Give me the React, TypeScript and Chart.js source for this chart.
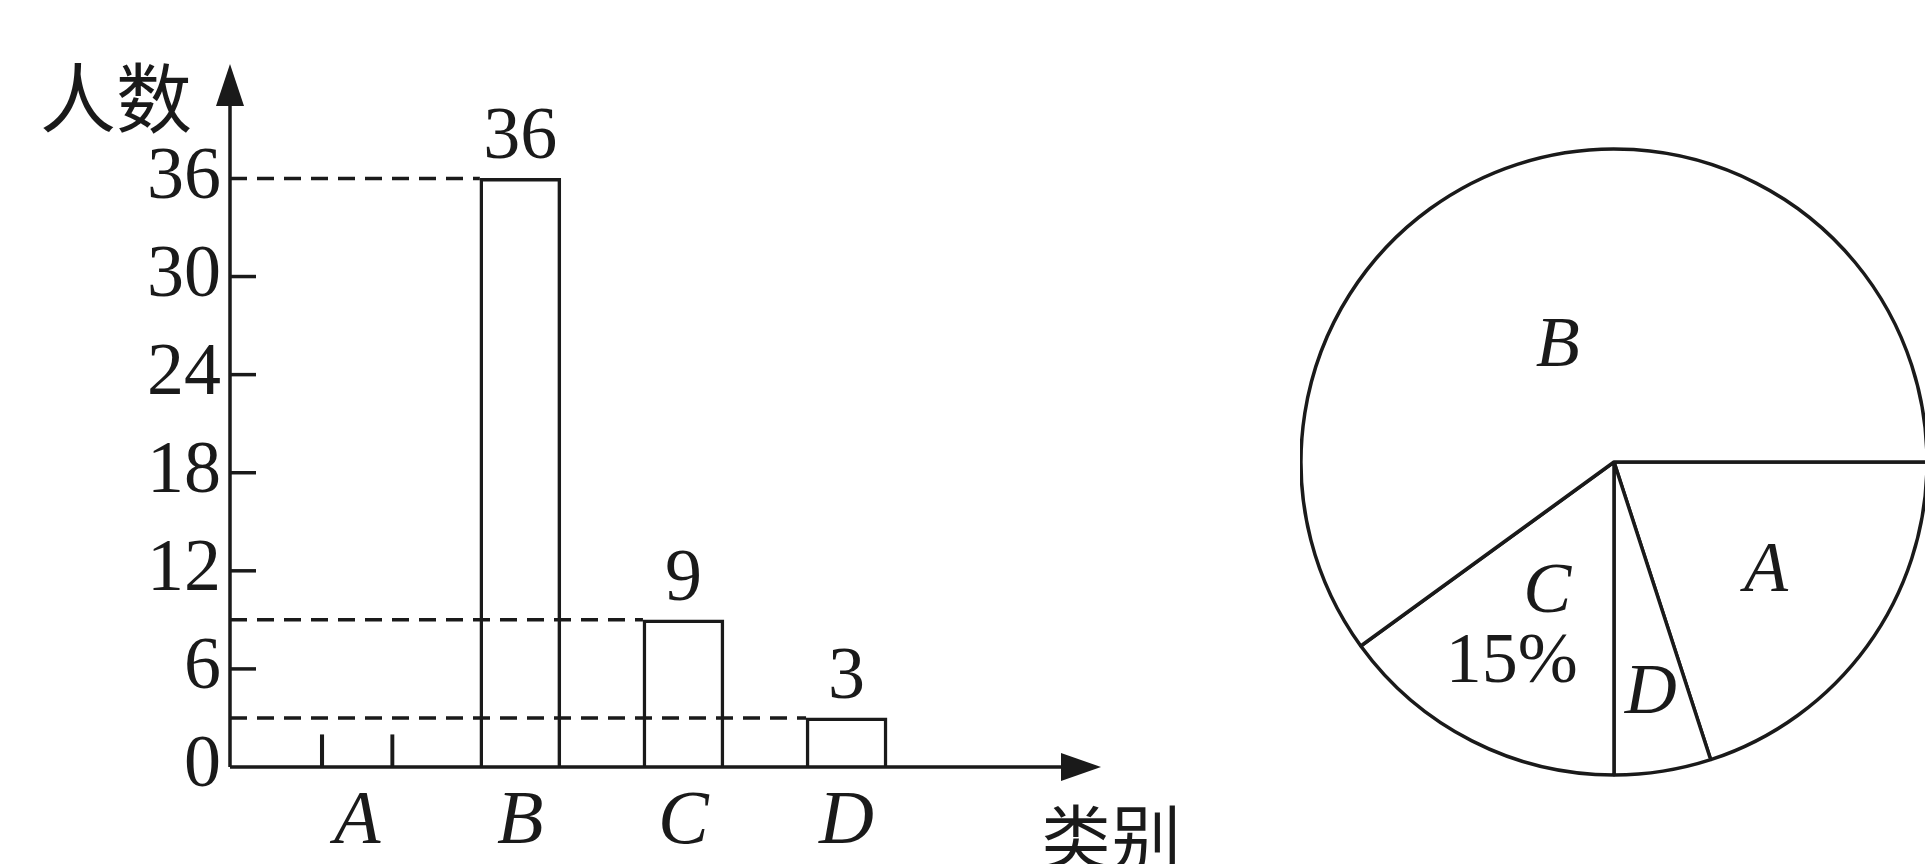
import React, { useEffect, useRef } from 'react';
import { Chart, registerables } from 'chart.js';

Chart.register(...registerables);

// ---- data ----
const categories = ['A', 'B', 'C', 'D'];
const counts: (number | null)[] = [null, 36, 9, 3]; // bar for A is left blank in the figure
const stubMarks: (number | null)[] = [2, null, null, null]; // the two short strokes drawn at A
const yTicks = [0, 6, 12, 18, 24, 30, 36];
const pieCategories = ['A', 'D', 'C', 'B'];
const pieShares = [20, 5, 15, 60];
const pieNotes = ['', '', '15%', ''];
const yAxisTitle = '人数';
const xAxisTitle = '类别';

// ---- style ----
const INK = '#1a1a1a';
const LW = 3.5;
const SERIF = '"Liberation Serif", "Times New Roman", serif';
const CJK = '"Noto Sans CJK SC", sans-serif';
const pieLabelRadius = [0.6, 0.75, 0.47, 0.41];
const pieLabelAngleShift = [0, 0, 0, -8]; // degrees
const pieNoteRadius = 0.72;

const barPlugin = {
  id: 'barDecor',
  afterDatasetsDraw(chart: any) {
    const { ctx, chartArea, scales } = chart;
    const { left, right, top, bottom } = chartArea;
    const y = scales.y;
    ctx.save();
    ctx.strokeStyle = INK;
    ctx.fillStyle = INK;
    ctx.lineWidth = LW;

    // dashed guide lines from the y axis to each bar
    const meta = chart.getDatasetMeta(0);
    ctx.setLineDash([17, 10]);
    meta.data.forEach((bar: any, i: number) => {
      if (counts[i] == null) return;
      const p = bar.getProps(['x', 'y', 'width'], true);
      ctx.beginPath();
      ctx.moveTo(left, p.y);
      ctx.lineTo(p.x - p.width / 2, p.y);
      ctx.stroke();
    });
    ctx.setLineDash([]);

    // axes with arrows
    ctx.beginPath();
    ctx.moveTo(left, bottom);
    ctx.lineTo(left, top + 38);
    ctx.moveTo(left, bottom);
    ctx.lineTo(right - 38, bottom);
    ctx.stroke();
    ctx.beginPath();
    ctx.moveTo(left, top);
    ctx.lineTo(left - 14, top + 42);
    ctx.lineTo(left + 14, top + 42);
    ctx.closePath();
    ctx.fill();
    ctx.beginPath();
    ctx.moveTo(right, bottom);
    ctx.lineTo(right - 40, bottom - 14);
    ctx.lineTo(right - 40, bottom + 14);
    ctx.closePath();
    ctx.fill();

    // tick marks (inside)
    const maxTick = Math.max(...yTicks);
    yTicks.forEach((v) => {
      if (v <= 0 || v >= maxTick) return;
      const py = y.getPixelForValue(v);
      ctx.beginPath();
      ctx.moveTo(left, py);
      ctx.lineTo(left + 26, py);
      ctx.stroke();
    });

    // value labels
    ctx.font = `74px ${SERIF}`;
    ctx.textAlign = 'center';
    ctx.textBaseline = 'alphabetic';
    meta.data.forEach((bar: any, i: number) => {
      if (counts[i] == null) return;
      const p = bar.getProps(['x', 'y'], true);
      ctx.fillText(String(counts[i]), p.x, p.y - 20);
    });

    // axis titles
    ctx.font = `76px ${CJK}`;
    ctx.textBaseline = 'middle';
    ctx.textAlign = 'right';
    ctx.fillText(yAxisTitle, left - 38, top + 34);
    ctx.font = `70px ${CJK}`;
    ctx.textAlign = 'left';
    ctx.fillText(xAxisTitle, right - 60, bottom + 70);
    ctx.restore();
  },
};

const piePlugin = {
  id: 'pieLabels',
  afterDatasetsDraw(chart: any) {
    const { ctx } = chart;
    const meta = chart.getDatasetMeta(0);
    ctx.save();
    ctx.fillStyle = INK;
    ctx.textAlign = 'center';
    ctx.textBaseline = 'middle';
    meta.data.forEach((arc: any, i: number) => {
      const p = arc.getProps(['x', 'y', 'startAngle', 'endAngle', 'outerRadius'], true);
      const mid = (p.startAngle + p.endAngle) / 2 + (pieLabelAngleShift[i] * Math.PI) / 180;
      const r = p.outerRadius * pieLabelRadius[i];
      ctx.font = `italic 72px ${SERIF}`;
      ctx.fillText(pieCategories[i], p.x + Math.cos(mid) * r, p.y + Math.sin(mid) * r);
      if (pieNotes[i]) {
        const r2 = p.outerRadius * pieNoteRadius;
        ctx.font = `72px ${SERIF}`;
        ctx.fillText(pieNotes[i], p.x + Math.cos(mid) * r2, p.y + Math.sin(mid) * r2);
      }
    });
    ctx.restore();
  },
};

export default function App() {
  const barRef = useRef<HTMLCanvasElement>(null);
  const pieRef = useRef<HTMLCanvasElement>(null);

  useEffect(() => {
    const bar = new Chart(barRef.current as HTMLCanvasElement, {
      type: 'bar',
      data: {
        datasets: [
          {
            label: yAxisTitle,
            data: categories.map((_, i) => ({ x: i, y: counts[i] })) as any,
            backgroundColor: '#ffffff',
            borderColor: INK,
            borderWidth: LW,
            borderSkipped: 'start',
            barThickness: 81,
            grouped: false,
          } as any,
          {
            label: 'stub',
            data: categories.map((_, i) => ({ x: i, y: stubMarks[i] })) as any,
            backgroundColor: 'rgba(0,0,0,0)',
            borderColor: INK,
            borderWidth: { left: LW, right: LW, top: 0, bottom: 0 },
            borderSkipped: false,
            barThickness: 74,
            grouped: false,
          } as any,
        ],
      },
      options: {
        animation: false,
        responsive: false,
        layout: { padding: { left: 0, top: 64, right: 149, bottom: 0 } },
        plugins: { legend: { display: false }, tooltip: { enabled: false } },
        scales: {
          x: {
            type: 'linear',
            offset: false,
            min: -0.78,
            max: 4.56,
            afterBuildTicks: (s: any) => {
              s.ticks = categories.map((_, i) => ({ value: i }));
            },
            afterFit: (s: any) => {
              s.height = 97;
            },
            ticks: {
              callback: (v: any) => categories[v as number] ?? '',
              font: { family: SERIF, size: 76, style: 'italic' },
              color: INK,
              padding: 10,
              autoSkip: false,
              maxRotation: 0,
            },
            grid: { display: false, drawTicks: false, offset: false },
            border: { display: false },
          },
          y: {
            type: 'linear',
            min: 0,
            max: 43,
            afterBuildTicks: (s: any) => {
              s.ticks = yTicks.map((v) => ({ value: v }));
            },
            afterFit: (s: any) => {
              s.width = 230;
            },
            ticks: {
              font: { family: SERIF, size: 74 },
              color: INK,
              padding: 9,
            },
            grid: { display: false, drawTicks: false },
            border: { display: false },
          },
        },
      } as any,
      plugins: [barPlugin],
    });

    const pie = new Chart(pieRef.current as HTMLCanvasElement, {
      type: 'pie',
      data: {
        labels: pieCategories,
        datasets: [
          {
            data: pieShares,
            backgroundColor: '#ffffff',
            borderColor: INK,
            borderWidth: LW,
          },
        ],
      },
      options: {
        animation: false,
        responsive: false,
        rotation: 90,
        radius: 313,
        layout: { padding: { left: 3, top: 60, right: 0, bottom: 0 } },
        plugins: { legend: { display: false }, tooltip: { enabled: false } },
      } as any,
      plugins: [piePlugin],
    });

    return () => {
      bar.destroy();
      pie.destroy();
    };
  }, []);

  return (
    <div
      style={{
        position: 'absolute',
        left: 0,
        top: 0,
        width: 1925,
        height: 864,
        overflow: 'hidden',
        background: '#ffffff',
      }}
    >
      <canvas
        ref={barRef}
        width={1250}
        height={864}
        style={{ position: 'absolute', left: 0, top: 0, width: 1250, height: 864 }}
      />
      <canvas
        ref={pieRef}
        width={625}
        height={864}
        style={{ position: 'absolute', left: 1300, top: 0, width: 625, height: 864 }}
      />
    </div>
  );
}
